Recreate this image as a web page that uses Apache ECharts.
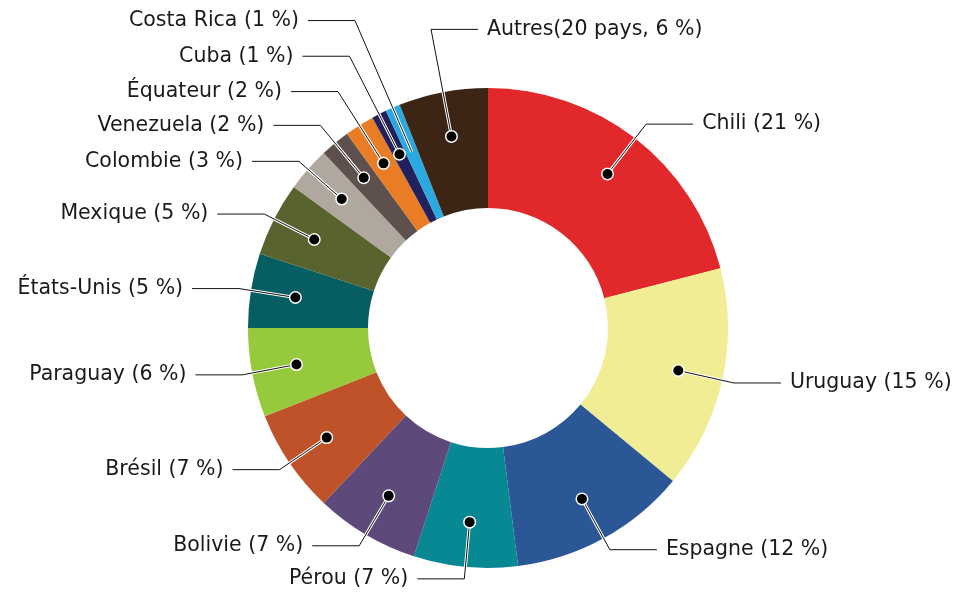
<!DOCTYPE html>
<html>
<head>
<meta charset="utf-8">
<script src="https://cdn.jsdelivr.net/npm/echarts@6/dist/echarts.min.js"></script>
<style>
  html, body { margin: 0; padding: 0; background: #fff; }
  #chart { width: 957px; height: 592px; }
</style>
</head>
<body>
<div id="chart"></div>
<script>
// parts par pays, en % (sens horaire depuis midi)
const countries = ["Chili", "Uruguay", "Espagne", "Pérou", "Bolivie", "Brésil", "Paraguay",
  "États-Unis", "Mexique", "Colombie", "Venezuela", "Équateur", "Cuba", "Costa Rica", "Autres"];
const shares = [21, 15, 12, 7, 7, 7, 6, 5, 5, 3, 2, 2, 1, 1, 6];
const labelTexts = ["Chili (21 %)", "Uruguay (15 %)", "Espagne (12 %)", "Pérou (7 %)", "Bolivie (7 %)",
  "Brésil (7 %)", "Paraguay (6 %)", "États-Unis (5 %)", "Mexique (5 %)", "Colombie (3 %)",
  "Venezuela (2 %)", "Équateur (2 %)", "Cuba (1 %)", "Costa Rica (1 %)", "Autres(20 pays, 6 %)"];

const colors = ["#e1282a", "#f1ed95", "#2b5797", "#088893", "#5e4a7a", "#c0522a", "#97c93c",
  "#065e63", "#59632d", "#b0a79f", "#5e504c", "#e87d25", "#23205e", "#2aa8e0", "#3d2516"];
// longueur radiale des traits de rappel (style)
const lineLen = [66, 60, 61, 60, 61, 60, 58, 60, 59, 60, 71, 88, 113, 143, 112];
const lineLen2 = 47;
const dotR = 192;

const chart = echarts.init(document.getElementById("chart"));

const ringData = countries.map((c, i) => ({ name: c, value: shares[i], itemStyle: { color: colors[i] } }));

function labelData() {
  return countries.map((c, i) => ({
    name: c,
    value: shares[i],
    labelLine: { length: lineLen[i], length2: lineLen2 }
  }));
}

// "Autres" part vers la droite
function flipAutres(params) {
  if (params.dataIndex !== 14) return {};
  const p = params.labelLinePoints;
  const end = [p[1][0] + lineLen2, p[1][1]];
  return {
    x: end[0] + 9,
    y: end[1],
    align: "left",
    verticalAlign: "middle",
    labelLinePoints: [p[0], p[1], end]
  };
}

function labelSeries(halo) {
  return {
    type: "pie",
    silent: true,
    center: [488, 328],
    radius: [0, dotR],
    startAngle: 90,
    clockwise: true,
    avoidLabelOverlap: false,
    z: halo ? 3 : 4,
    itemStyle: { color: "transparent" },
    label: {
      show: true,
      position: "outside",
      formatter: p => labelTexts[p.dataIndex],
      fontFamily: "DejaVu Sans",
      fontSize: 20.5,
      color: halo ? "transparent" : "#1a1a1a",
      distanceToLabelLine: 9
    },
    labelLine: {
      show: true,
      smooth: false,
      minTurnAngle: 0,
      maxSurfaceAngle: 180,
      lineStyle: halo ? { color: "#fff", width: 3 } : { color: "#111", width: 1 }
    },
    labelLayout: flipAutres,
    data: labelData()
  };
}

chart.setOption({
  animation: false,
  series: [
    {
      type: "pie",
      silent: true,
      center: [488, 328],
      radius: [120, 240],
      startAngle: 90,
      clockwise: true,
      z: 2,
      label: { show: false },
      labelLine: { show: false },
      data: ringData
    },
    labelSeries(true),
    labelSeries(false),
    {
      // points noirs au bout des traits
      type: "pie",
      silent: true,
      center: [488, 328],
      radius: [dotR - 10, dotR + 10],
      startAngle: 90,
      clockwise: true,
      z: 5,
      itemStyle: { color: "transparent" },
      label: {
        show: true,
        position: "inside",
        formatter: "{d|}",
        rich: {
          d: { width: 10, height: 10, borderRadius: 6, backgroundColor: "#000", borderColor: "#fff", borderWidth: 1.5 }
        }
      },
      labelLine: { show: false },
      data: countries.map((c, i) => ({ name: c, value: shares[i] }))
    }
  ]
});
</script>
</body>
</html>
